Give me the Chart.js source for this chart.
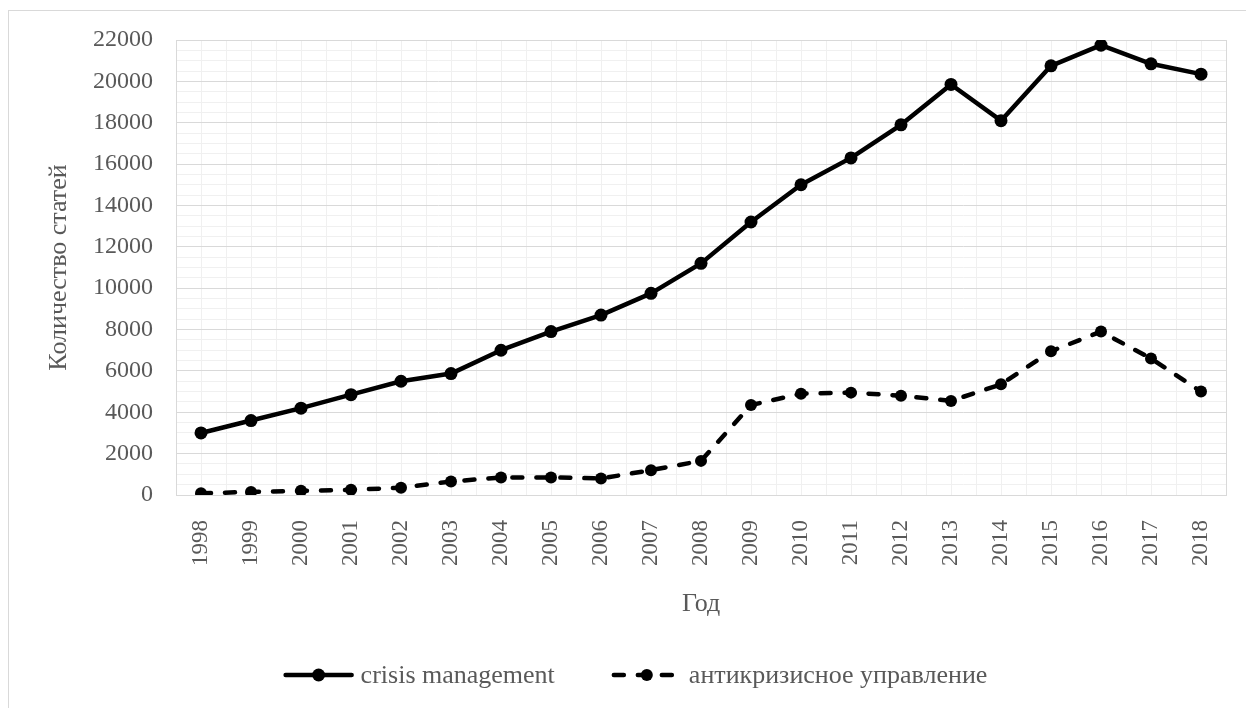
<!DOCTYPE html>
<html lang="ru">
<head>
  <meta charset="UTF-8">
  <title>Количество статей по годам</title>
  <script src="https://cdn.jsdelivr.net/npm/chart.js"></script>
  <style>
    html, body { margin: 0; padding: 0; background: #fff; }
    #wrap { width: 1246px; height: 708px; }
  </style>
</head>
<body>
<div id="wrap"><canvas id="chart" width="1246" height="708"></canvas></div>

<script>
  // data
  const years = ['1998','1999','2000','2001','2002','2003','2004','2005','2006','2007','2008',
                 '2009','2010','2011','2012','2013','2014','2015','2016','2017','2018'];
  const crisisValues = [3000, 3600, 4200, 4850, 5500, 5870, 7000, 7900, 8700, 9750, 11200,
                        13200, 15000, 16300, 17900, 19850, 18100, 20750, 21750, 20850, 20350];
  const antiValues = [80, 150, 200, 250, 350, 650, 850, 850, 800, 1200, 1650,
                      4350, 4900, 4950, 4800, 4550, 5350, 6950, 7900, 6600, 5000];
  const yMax = 22000;
  const yMajorStep = 2000;
  const yMinorStep = 500;

  const FONT = '"Liberation Serif", "Times New Roman", serif';
  const TEXT = '#595959';

  // background, outer frame and the extra vertical lines through each year
  const framePlugin = {
    id: 'frame',
    beforeDraw(chart) {
      const ctx = chart.ctx;
      const a = chart.chartArea;
      const x = chart.scales.x;
      ctx.save();
      ctx.fillStyle = '#fff';
      ctx.fillRect(0, 0, chart.width, chart.height);
      ctx.strokeStyle = '#d9d9d9';
      ctx.lineWidth = 1;
      ctx.strokeRect(8.5, 10.5, chart.width + 20, chart.height + 20);
      ctx.strokeStyle = '#f0f0f0';
      for (let i = 0; i < years.length; i++) {
        const px = Math.round(x.getPixelForTick(i)) + 0.5;
        ctx.beginPath();
        ctx.moveTo(px, a.top);
        ctx.lineTo(px, a.bottom);
        ctx.stroke();
      }
      ctx.restore();
    },
    beforeDatasetsDraw(chart) {
      const ctx = chart.ctx;
      const a = chart.chartArea;
      ctx.save();
      ctx.strokeStyle = '#d9d9d9';
      ctx.lineWidth = 1;
      ctx.strokeRect(Math.round(a.left) + 0.5, Math.round(a.top) + 0.5,
                     Math.round(a.right - a.left), Math.round(a.bottom - a.top));
      ctx.restore();
    }
  };

  // legend drawn as in the original: line with marker through the middle
  const legendPlugin = {
    id: 'lineLegend',
    afterDraw(chart) {
      const ctx = chart.ctx;
      const y = 675;
      const lineLen = 72, textGap = 6, itemGap = 56;
      ctx.save();
      ctx.font = '26px ' + FONT;
      ctx.textBaseline = 'middle';
      const sets = chart.data.datasets;
      const widths = sets.map(d => ctx.measureText(d.label).width);
      let total = 0;
      widths.forEach((w, i) => { total += lineLen + textGap + w + (i ? itemGap : 0); });
      let x = 635 - total / 2;
      sets.forEach((d, i) => {
        ctx.strokeStyle = d.borderColor;
        ctx.lineWidth = d.borderWidth;
        ctx.lineCap = d.borderCapStyle || 'butt';
        ctx.setLineDash(d.borderDash || []);
        ctx.beginPath();
        ctx.moveTo(x + 3, y);
        ctx.lineTo(x + lineLen - 3, y);
        ctx.stroke();
        ctx.setLineDash([]);
        ctx.fillStyle = d.pointBackgroundColor;
        ctx.beginPath();
        ctx.arc(x + lineLen / 2, y, d.pointRadius, 0, Math.PI * 2);
        ctx.fill();
        ctx.fillStyle = TEXT;
        ctx.fillText(d.label, x + lineLen + textGap, y + 1);
        x += lineLen + textGap + widths[i] + itemGap;
      });
      ctx.restore();
    }
  };

  new Chart(document.getElementById('chart'), {
    type: 'line',
    data: {
      labels: years,
      datasets: [
        {
          label: 'crisis management',
          data: crisisValues,
          borderColor: '#000',
          borderWidth: 4.5,
          borderJoinStyle: 'round',
          borderCapStyle: 'round',
          pointRadius: 6.5,
          pointBackgroundColor: '#000',
          pointBorderWidth: 0,
          tension: 0
        },
        {
          label: 'антикризисное управление',
          data: antiValues,
          borderColor: '#000',
          borderWidth: 4.5,
          borderDash: [10, 14],
          borderJoinStyle: 'round',
          borderCapStyle: 'round',
          pointRadius: 6,
          pointBackgroundColor: '#000',
          pointBorderWidth: 0,
          tension: 0
        }
      ]
    },
    options: {
      responsive: false,
      animation: false,
      layout: { padding: { left: 0, right: 20, top: 40, bottom: 88 } },
      plugins: {
        legend: { display: false },
        tooltip: { enabled: false }
      },
      scales: {
        x: {
          offset: true,
          border: { display: false },
          grid: { offset: true, drawTicks: false, color: '#f0f0f0' },
          ticks: {
            color: TEXT, font: { family: FONT, size: 23 },
            minRotation: 90, maxRotation: 90, padding: 25, autoSkip: false
          },
          title: {
            display: true, text: 'Год', color: TEXT,
            font: { family: FONT, size: 26 }, padding: { top: 0, bottom: 0 }
          },
          afterFit(scale) {
            scale.height = 125;
            scale.paddingLeft = 0;
            scale.paddingRight = 0;
          }
        },
        y: {
          min: 0,
          max: yMax,
          border: { display: false },
          grid: {
            drawTicks: false,
            color: c => (c.tick && c.tick.value % yMajorStep === 0) ? '#d9d9d9' : '#f0f0f0'
          },
          ticks: {
            stepSize: yMinorStep, autoSkip: false, padding: 23,
            color: TEXT, font: { family: FONT, size: 24 },
            callback: v => (v % yMajorStep === 0 ? String(v) : '')
          },
          title: {
            display: true, text: 'Количество статей', color: TEXT,
            font: { family: FONT, size: 26 }, padding: { top: 44, bottom: 0 }
          },
          afterFit(scale) { scale.width = 176; }
        }
      }
    },
    plugins: [framePlugin, legendPlugin]
  });
</script>
</body>
</html>
